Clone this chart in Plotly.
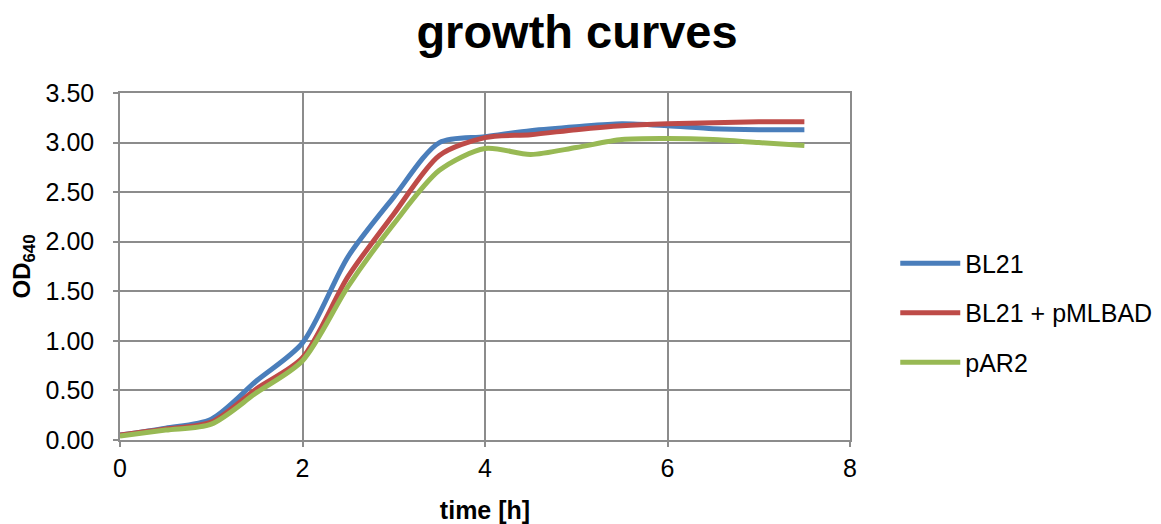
import plotly.graph_objects as go

time_h = [0, 0.5, 1, 1.5, 2, 2.5, 3, 3.5, 4, 4.5, 5, 5.5, 6, 6.5, 7, 7.5]
bl21 = [0.05, 0.12, 0.21, 0.60, 0.98, 1.85, 2.45, 3.00, 3.06, 3.12, 3.16, 3.19, 3.17, 3.14, 3.13, 3.13]
bl21_pmlbad = [0.05, 0.11, 0.18, 0.52, 0.83, 1.65, 2.28, 2.87, 3.05, 3.08, 3.13, 3.17, 3.19, 3.20, 3.21, 3.21]
par2 = [0.04, 0.10, 0.16, 0.48, 0.80, 1.55, 2.18, 2.72, 2.94, 2.88, 2.95, 3.03, 3.04, 3.03, 3.00, 2.97]

series_names = ["BL21", "BL21 + pMLBAD", "pAR2"]
series_colors = ["#4A7EBB", "#BE4B48", "#98B954"]
x_ticks = [0, 2, 4, 6, 8]
y_ticks = [0, 0.5, 1, 1.5, 2, 2.5, 3, 3.5]

FONT = "Liberation Sans, Arial, sans-serif"
fig = go.Figure()
for i, (name, vals, col) in enumerate(zip(series_names, [bl21, bl21_pmlbad, par2], series_colors)):
    fig.add_trace(go.Scatter(
        x=time_h, y=vals, name=name, mode="lines",
        line=dict(color=col, width=5, shape="spline", smoothing=0.8),
        legendgroup=f"g{i}",
    ))

grid = "#8C8C8C"
fig.update_layout(
    width=1161, height=524,
    paper_bgcolor="white", plot_bgcolor="white",
    margin=dict(l=120, r=311, t=93, b=84, autoexpand=False),
    title=dict(text="<b>growth curves</b>", x=0.497, xanchor="center", y=0.94, yanchor="middle",
               font=dict(family=FONT, size=47, color="black")),
    font=dict(family=FONT, color="black"),
    legend=dict(x=1.062, xanchor="left", y=0.366, yanchor="middle",
                font=dict(family=FONT, size=25, color="black"),
                tracegroupgap=14, itemwidth=60, bgcolor="rgba(0,0,0,0)"),
    xaxis=dict(range=[0, 8], tickvals=x_ticks, ticktext=[str(v) for v in x_ticks],
               showgrid=True, gridcolor=grid, gridwidth=1.5,
               showline=True, linecolor=grid, linewidth=1.5, mirror=True,
               ticks="outside", ticklen=5, tickcolor=grid, tickwidth=1.5,
               tickfont=dict(family=FONT, size=25, color="black"),
               title=dict(text="<b>time [h]</b>", font=dict(family=FONT, size=25, color="black"), standoff=22),
               zeroline=False, automargin=False),
    yaxis=dict(range=[0, 3.5], tickvals=y_ticks, ticktext=[f"{v:.2f}" for v in y_ticks],
               showgrid=True, gridcolor=grid, gridwidth=1.5,
               showline=True, linecolor=grid, linewidth=1.5, mirror=True,
               ticks="outside", ticklen=5, tickcolor=grid, tickwidth=1.5,
               tickfont=dict(family=FONT, size=25, color="black"),
               ticklabelstandoff=14,
               title=dict(text="<b>OD<sub>640</sub></b>", font=dict(family=FONT, size=24, color="black"), standoff=8),
               zeroline=False, automargin=False),
)
fig.write_html("out.html", config={"displayModeBar": False},
               post_script="document.body.style.margin='0';document.body.style.padding='0';")
